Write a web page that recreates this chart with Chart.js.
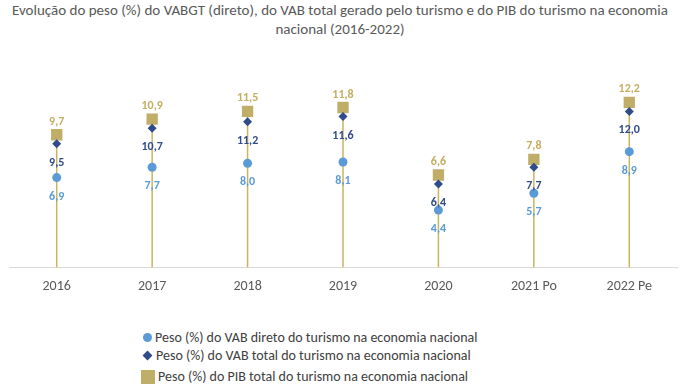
<!DOCTYPE html>
<html lang="pt">
<head>
<meta charset="UTF-8">
<title>Peso do turismo na economia nacional</title>
<script src="https://cdn.jsdelivr.net/npm/chart.js@4"></script>
<style>
  body {
    margin: 0;
    width: 680px;
    height: 390px;
    background: #fff;
    font-family: Carlito, "Liberation Sans Narrow", Lato, sans-serif;
    color: #404040;
    position: relative;
    overflow: hidden;
  }
  #title {
    position: absolute; top: 1px; left: 0; width: 680px;
    text-align: center; font-size: 15px; line-height: 19px; color: #595959;
  }
  #wrap { position: absolute; top: 40px; left: 0; width: 680px; height: 266px; }
  .row { position: absolute; left: 141px; font-size: 14px; line-height: 16px; white-space: nowrap; }
  .mk { display: inline-block; vertical-align: middle; margin-right: 3px; position: relative; top: -1px; }
  .circ { width: 9px; height: 9px; border-radius: 50%; background: #5b9bd5; margin-left: 2px; }
  .diam { width: 7px; height: 7px; background: #2f4b8a; transform: rotate(45deg); margin-left: 3px; margin-right: 5px; }
  .sq { width: 14px; height: 14px; background: #bfad68; }
</style>
</head>
<body>
  <div id="title">Evolução do peso (%) do VABGT (direto), do VAB total gerado pelo turismo e do PIB do turismo na economia<br>nacional (2016-2022)</div>
  <div id="wrap"><canvas id="chart" width="680" height="266"></canvas></div>

  <div class="row" style="top:330px"><span class="mk circ"></span>Peso (%) do VAB direto do turismo na economia nacional</div>
  <div class="row" style="top:348px"><span class="mk diam"></span>Peso (%) do VAB total do turismo na economia nacional</div>
  <div class="row" style="top:369px"><span class="mk sq"></span>Peso (%) do PIB total do turismo na economia nacional</div>

<script>
  // data
  const years = ['2016', '2017', '2018', '2019', '2020', '2021 Po', '2022 Pe'];
  const vabDireto = [6.9, 7.7, 8.0, 8.1, 4.4, 5.7, 8.9];
  const vabTotal = [9.5, 10.7, 11.2, 11.6, 6.4, 7.7, 12.0];
  const pibTotal = [9.7, 10.9, 11.5, 11.8, 6.6, 7.8, 12.2];

  const FONT = 'Carlito, "Liberation Sans Narrow", Lato, sans-serif';
  const fmt = v => v.toFixed(1).replace('.', ',');

  // gold vertical line from the baseline up to the PIB marker
  const dropLines = {
    id: 'dropLines',
    beforeDatasetsDraw(chart) {
      const ctx = chart.ctx;
      const base = chart.scales.y.getPixelForValue(0);
      ctx.save();
      ctx.strokeStyle = '#c9b55e';
      ctx.lineWidth = 1.5;
      chart.getDatasetMeta(2).data.forEach(p => {
        ctx.beginPath();
        ctx.moveTo(p.x, base);
        ctx.lineTo(p.x, p.y);
        ctx.stroke();
      });
      ctx.restore();
    }
  };

  // value labels
  const valueLabels = {
    id: 'valueLabels',
    afterDatasetsDraw(chart) {
      const ctx = chart.ctx;
      ctx.save();
      ctx.font = 'bold 12px ' + FONT;
      ctx.textAlign = 'center';
      ctx.textBaseline = 'middle';
      chart.data.datasets.forEach((ds, i) => {
        chart.getDatasetMeta(i).data.forEach((p, j) => {
          ctx.fillStyle = ds.labelColor;
          ctx.fillText(fmt(ds.data[j]), p.x, p.y + ds.labelOffset);
        });
      });
      ctx.restore();
    }
  };

  new Chart(document.getElementById('chart'), {
    type: 'line',
    data: {
      labels: years,
      datasets: [
        {
          label: 'Peso (%) do VAB direto do turismo na economia nacional',
          data: vabDireto,
          showLine: false,
          pointStyle: 'circle',
          pointRadius: 4.5,
          backgroundColor: '#5b9bd5',
          borderColor: '#5b9bd5',
          borderWidth: 0,
          labelColor: '#5b9bd5',
          labelOffset: 19,
          yAxisID: 'y'
        },
        {
          label: 'Peso (%) do VAB total do turismo na economia nacional',
          data: vabTotal,
          showLine: false,
          pointStyle: 'rectRot',
          pointRadius: 4.5,
          backgroundColor: '#2f4b8a',
          borderColor: '#2f4b8a',
          borderWidth: 0,
          labelColor: '#2f4b8a',
          labelOffset: 19,
          yAxisID: 'y'
        },
        {
          label: 'Peso (%) do PIB total do turismo na economia nacional',
          data: pibTotal,
          showLine: false,
          pointStyle: 'rect',
          pointRadius: 8,
          backgroundColor: '#bfad68',
          borderColor: '#bfad68',
          borderWidth: 0,
          labelColor: '#c4ad62',
          labelOffset: -13,
          yAxisID: 'y2'
        }
      ]
    },
    options: {
      responsive: false,
      animation: false,
      layout: { autoPadding: false, padding: { left: 9, right: 3, top: 0, bottom: 0 } },
      plugins: {
        legend: { display: false },
        tooltip: { enabled: false }
      },
      scales: {
        x: {
          offset: true,
          grid: { display: false, drawTicks: false, offset: true },
          border: { display: true, color: '#d9d9d9', width: 1 },
          ticks: {
            color: '#595959',
            padding: 11,
            font: { size: 14, family: FONT }
          }
        },
        y: { display: false, min: 0, max: 17.5 },
        y2: { display: false, min: -0.5, max: 17.0 }
      }
    },
    plugins: [dropLines, valueLabels]
  });
</script>
</body>
</html>
